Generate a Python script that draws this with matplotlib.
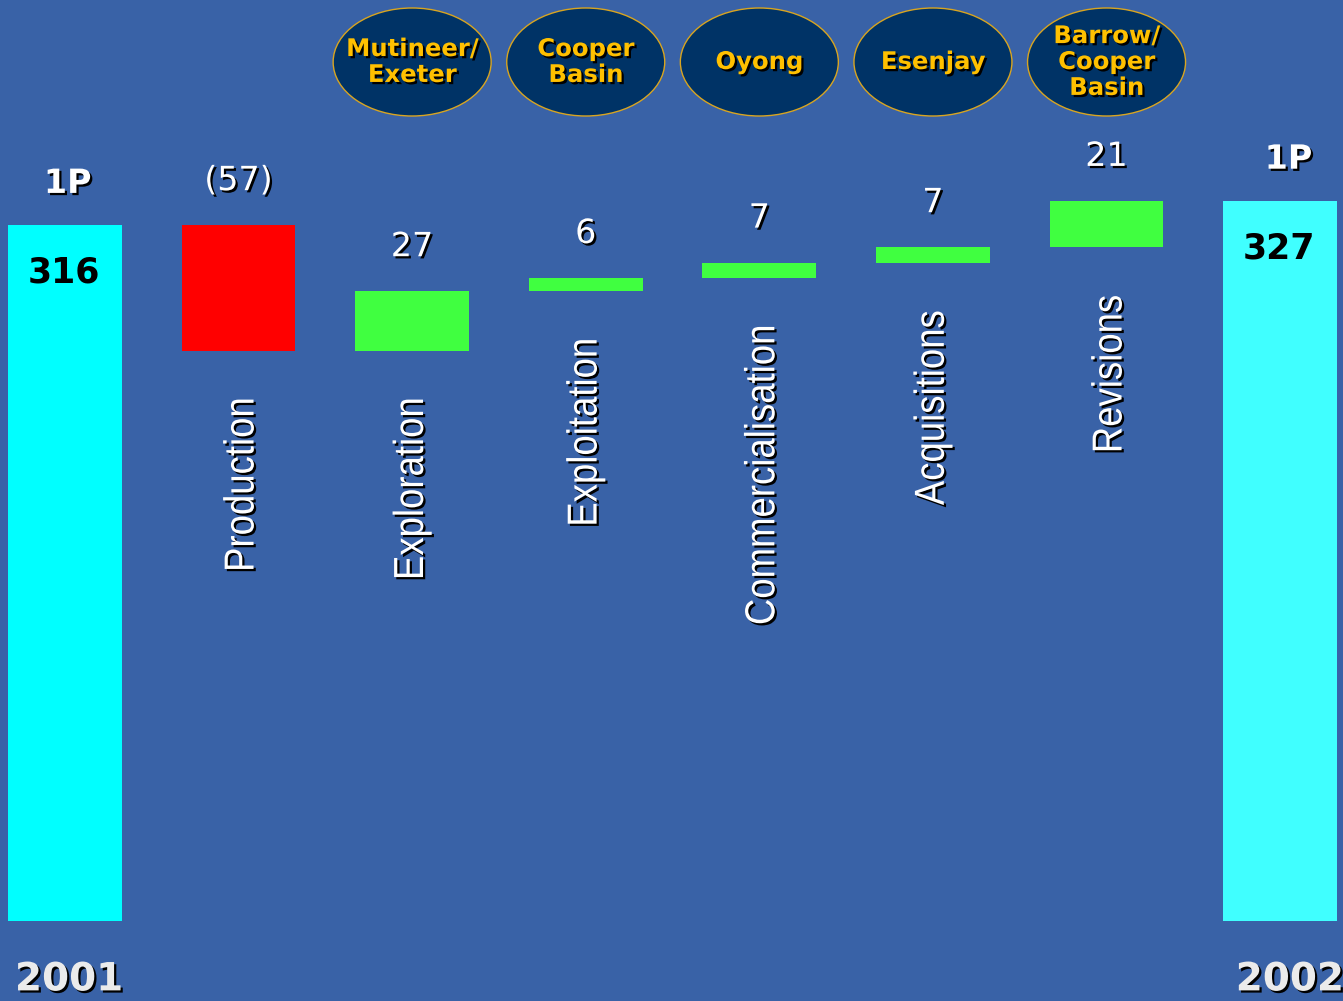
import matplotlib
matplotlib.use("Agg")
import matplotlib.pyplot as plt
import matplotlib.patheffects as pe
from matplotlib.patches import Ellipse, PathPatch
from matplotlib.textpath import TextPath
from matplotlib.font_manager import FontProperties
from matplotlib.transforms import Affine2D, ScaledTranslation

# ---- data -------------------------------------------------------------
start_year = "2001"
end_year = "2002"
start_total = 316
end_total = 327
steps = ["Production", "Exploration", "Exploitation", "Commercialisation",
         "Acquisitions", "Revisions"]
changes = [-57, 27, 6, 7, 7, 21]
change_labels = ["(57)", "27", "6", "7", "7", "21"]
projects = ["Mutineer/\nExeter", "Cooper\nBasin", "Oyong", "Esenjay",
            "Barrow/\nCooper\nBasin"]
total_label = "1P"

# ---- style ------------------------------------------------------------
BG = "#3962A7"
START_C = "#00FFFF"
END_C = "#40FFFF"
UP_C = "#40FF40"
DOWN_C = "#FF0000"
OVAL_FACE = "#003366"
OVAL_EDGE = "#D9A520"
GOLD = "#FFC000"

shadow = [pe.SimplePatchShadow(offset=(1.6, -1.6), shadow_rgbFace="black", alpha=1.0),
          pe.Normal()]

W, H, DPI = 1343, 1001, 100
fig = plt.figure(figsize=(W / DPI, H / DPI), dpi=DPI, facecolor=BG)
ax = fig.add_axes([0, 0, 1, 1])
ax.set_facecolor(BG)
ax.set_xlim(-0.374, 7.362)
ax.set_ylim(-36.3, 418.2)
ax.axis("off")

bw = 0.655
n = len(steps)

label_font = FontProperties(family="Liberation Sans")
LABEL_PX = 42      # em size in pixels
LABEL_SX = 0.87    # horizontal squeeze of the glyphs
LABEL_GAP = 49     # pixels between step bottom and label end


def vertical_label(x, y, text):
    """Condensed text reading bottom-to-top, its end placed LABEL_GAP px below (x, y)."""
    tp = TextPath((0, 0), text, size=LABEL_PX, prop=label_font)
    ext = tp.get_extents()
    tr = (Affine2D().scale(LABEL_SX, 1.0).rotate_deg(90)
          .translate((ext.y0 + ext.y1) / 2, -LABEL_GAP - ext.x1 * LABEL_SX)
          + ScaledTranslation(x, y, ax.transData))
    ax.add_patch(PathPatch(tp, transform=tr, facecolor="white", edgecolor="none",
                           path_effects=shadow, zorder=3))


# totals
ax.bar(0, start_total, width=bw, color=START_C, zorder=2)
ax.bar(n + 1, end_total, width=bw, color=END_C, zorder=2)

# waterfall steps
level = start_total
for i, (name, d, lab) in enumerate(zip(steps, changes, change_labels), start=1):
    new = level + d
    lo, hi = min(level, new), max(level, new)
    ax.bar(i, hi - lo, bottom=lo, width=bw, color=UP_C if d > 0 else DOWN_C, zorder=2)
    ax.annotate(lab, (i, hi), xytext=(0, 32), textcoords="offset points",
                ha="center", va="center", color="white", fontsize=24,
                family="DejaVu Sans", path_effects=shadow)
    vertical_label(i, lo, name)
    level = new

# totals labels
for x, val, year, dx in [(0, start_total, start_year, 0), (n + 1, end_total, end_year, 4)]:
    ax.annotate(total_label, (x, val), xytext=(dx + 2, 30), textcoords="offset points",
                ha="center", va="center", color="white", fontsize=24,
                fontweight="bold", family="DejaVu Sans", path_effects=shadow)
    ax.annotate(str(val), (x, val), xytext=(-1, -34), textcoords="offset points",
                ha="center", va="center", color="black", fontsize=25,
                fontweight="bold", family="DejaVu Sans")
    ax.annotate(year, (x, 0), xytext=(dx + 3, -42), textcoords="offset points",
                ha="center", va="center", color="#EBEBEB", fontsize=28,
                fontweight="bold", family="DejaVu Sans", path_effects=shadow)

# project ovals above the positive steps
ux = (ax.get_xlim()[1] - ax.get_xlim()[0]) / W
uy = (ax.get_ylim()[1] - ax.get_ylim()[0]) / H
oval_y = ax.get_ylim()[1] - 62 * uy
for i, proj in enumerate(projects, start=2):
    ax.add_patch(Ellipse((i, oval_y), 158 * ux, 108 * uy, facecolor=OVAL_FACE,
                         edgecolor=OVAL_EDGE, linewidth=1.0, zorder=3))
    ax.text(i, oval_y, proj, ha="center", va="center", color=GOLD, fontsize=17.5,
            fontweight="bold", family="DejaVu Sans", linespacing=1.1,
            path_effects=shadow, zorder=4)

fig.savefig("out.png", dpi=DPI, facecolor=BG)
